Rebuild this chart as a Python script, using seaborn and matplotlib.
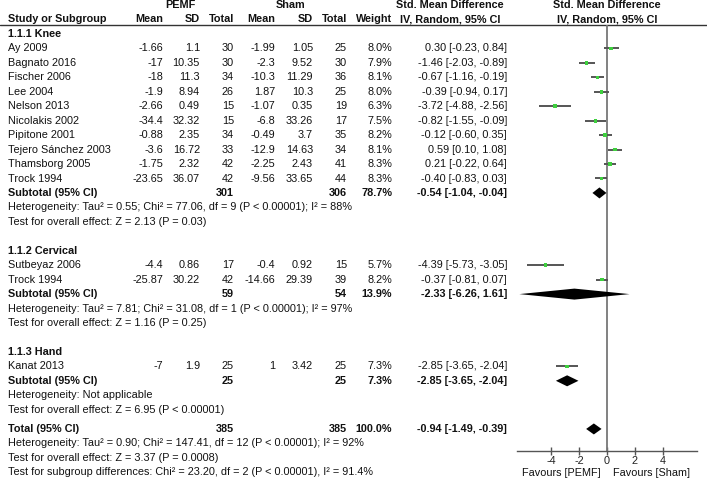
import matplotlib
matplotlib.use("Agg")
import matplotlib.pyplot as plt
import numpy as np
import pandas as pd
import seaborn as sns

# ---- data ----
groups = ["1.1.1 Knee", "1.1.2 Cervical", "1.1.3 Hand"]

study_group = [0, 0, 0, 0, 0, 0, 0, 0, 0, 0, 1, 1, 2]
study_names = ["Ay 2009", "Bagnato 2016", "Fischer 2006", "Lee 2004", "Nelson 2013",
               "Nicolakis 2002", "Pipitone 2001", "Tejero Sánchez 2003", "Thamsborg 2005",
               "Trock 1994", "Sutbeyaz 2006", "Trock 1994", "Kanat 2013"]
pemf_mean = [-1.66, -17, -18, -1.9, -2.66, -34.4, -0.88, -3.6, -1.75, -23.65, -4.4, -25.87, -7]
pemf_sd = [1.1, 10.35, 11.3, 8.94, 0.49, 32.32, 2.35, 16.72, 2.32, 36.07, 0.86, 30.22, 1.9]
pemf_n = [30, 30, 34, 26, 15, 15, 34, 33, 42, 42, 17, 42, 25]
sham_mean = [-1.99, -2.3, -10.3, 1.87, -1.07, -6.8, -0.49, -12.9, -2.25, -9.56, -0.4, -14.66, 1]
sham_sd = [1.05, 9.52, 11.29, 10.3, 0.35, 33.26, 3.7, 14.63, 2.43, 33.65, 0.92, 29.39, 3.42]
sham_n = [25, 30, 36, 25, 19, 17, 35, 34, 41, 44, 15, 39, 25]
weight = [8.0, 7.9, 8.1, 8.0, 6.3, 7.5, 8.2, 8.1, 8.3, 8.3, 5.7, 8.2, 7.3]
smd = [0.30, -1.46, -0.67, -0.39, -3.72, -0.82, -0.12, 0.59, 0.21, -0.40, -4.39, -0.37, -2.85]
ci_lo = [-0.23, -2.03, -1.16, -0.94, -4.88, -1.55, -0.60, 0.10, -0.22, -0.83, -5.73, -0.81, -3.65]
ci_hi = [0.84, -0.89, -0.19, 0.17, -2.56, -0.09, 0.35, 1.08, 0.64, 0.03, -3.05, 0.07, -2.04]

sub_n1 = [301, 59, 25]
sub_n2 = [306, 54, 25]
sub_weight = [78.7, 13.9, 7.3]
sub_smd = [-0.54, -2.33, -2.85]
sub_lo = [-1.04, -6.26, -3.65]
sub_hi = [-0.04, 1.61, -2.04]
sub_het = ["Heterogeneity: Tau² = 0.55; Chi² = 77.06, df = 9 (P < 0.00001); I² = 88%",
           "Heterogeneity: Tau² = 7.81; Chi² = 31.08, df = 1 (P < 0.00001); I² = 97%",
           "Heterogeneity: Not applicable"]
sub_test = ["Test for overall effect: Z = 2.13 (P = 0.03)",
            "Test for overall effect: Z = 1.16 (P = 0.25)",
            "Test for overall effect: Z = 6.95 (P < 0.00001)"]

total_n1, total_n2, total_weight = 385, 385, 100.0
total_smd, total_lo, total_hi = -0.94, -1.49, -0.39
total_notes = ["Heterogeneity: Tau² = 0.90; Chi² = 147.41, df = 12 (P < 0.00001); I² = 92%",
               "Test for overall effect: Z = 3.37 (P = 0.0008)",
               "Test for subgroup differences: Chi² = 23.20, df = 2 (P < 0.00001), I² = 91.4%"]

axis_ticks = [-4, -2, 0, 2, 4]

# ---- layout (pixel rows) ----
W, H = 707, 488
step = 14.45
fs = 7.85

sns.set_theme(style="white")
plt.rcParams["font.family"] = ["Liberation Sans", "DejaVu Sans"]

fig = plt.figure(figsize=(W / 100, H / 100), dpi=100)
ax = fig.add_axes([0, 0, 1, 1])
ax.set_xlim(0, W)
ax.set_ylim(H, 0)
ax.axis("off")

# forest panel: x in SMD units, y in pixel rows
fx_left, fx_right, fx_top, fx_bot = 517, 697, 25, 451
fx = fig.add_axes([fx_left / W, (H - fx_bot) / H, (fx_right - fx_left) / W, (fx_bot - fx_top) / H])
fx.set_xlim(-6.43, 6.43)
fx.set_ylim(fx_bot, fx_top)
fx.patch.set_alpha(0)
for s in ["top", "right", "left"]:
    fx.spines[s].set_visible(False)
fx.spines["bottom"].set_color("#555555")
fx.spines["bottom"].set_linewidth(1.0)
fx.set_yticks([])
fx.set_xticks(axis_ticks)
fx.set_xticklabels([str(t) for t in axis_ticks])
fx.tick_params(axis="x", direction="inout", length=6, width=1.0, color="#555555",
               labelsize=fs, pad=0.5, labelcolor="#222222", bottom=True)
fx.axvline(0, color="#777777", lw=1.3, zorder=1)

cols = {"m1": 163, "sd1": 200, "n1": 234, "m2": 275, "sd2": 313, "n2": 347, "w": 392, "ci": 507}
txt = dict(fontsize=fs, va="center", color="#111111")


def put(x, y, s, ha="right", bold=False):
    ax.text(x, y, s, ha=ha, fontweight="bold" if bold else "normal", **txt)


# headers
put(180, 5.5, "PEMF", "center", True)
put(291, 5.5, "Sham", "center", True)
put(450, 5.5, "Std. Mean Difference", "center", True)
put(607, 5.5, "Std. Mean Difference", "center", True)
put(8, 19, "Study or Subgroup", "left", True)
for key, lab in [("m1", "Mean"), ("sd1", "SD"), ("n1", "Total"), ("m2", "Mean"),
                 ("sd2", "SD"), ("n2", "Total"), ("w", "Weight")]:
    put(cols[key], 19, lab, "right", True)
put(450, 19, "IV, Random, 95% CI", "center", True)
put(607, 19, "IV, Random, 95% CI", "center", True)
ax.plot([0, W], [25, 25], color="#333333", lw=1.0)


def ci_str(e, lo, hi):
    return f"{e:.2f} [{lo:.2f}, {hi:.2f}]"


def diamond(y, e, lo, hi, half=5.5):
    fx.fill([lo, e, hi, e], [y, y - half, y, y + half], color="black", zorder=3, lw=0)


y = 34.0
rows = []
for g, gname in enumerate(groups):
    put(8, y, gname, "left", True)
    y += step
    for i in [k for k, sg in enumerate(study_group) if sg == g]:
        put(8, y, study_names[i], "left")
        put(cols["m1"], y, f"{pemf_mean[i]:g}")
        put(cols["sd1"], y, f"{pemf_sd[i]:g}")
        put(cols["n1"], y, f"{pemf_n[i]}")
        put(cols["m2"], y, f"{sham_mean[i]:g}")
        put(cols["sd2"], y, f"{sham_sd[i]:g}")
        put(cols["n2"], y, f"{sham_n[i]}")
        put(cols["w"], y, f"{weight[i]:.1f}%")
        put(cols["ci"], y, ci_str(smd[i], ci_lo[i], ci_hi[i]))
        rows.append({"y": y, "smd": smd[i], "lo": ci_lo[i], "hi": ci_hi[i]})
        y += step
    put(8, y, "Subtotal (95% CI)", "left", True)
    put(cols["n1"], y, f"{sub_n1[g]}", bold=True)
    put(cols["n2"], y, f"{sub_n2[g]}", bold=True)
    put(cols["w"], y, f"{sub_weight[g]:.1f}%", bold=True)
    put(cols["ci"], y, ci_str(sub_smd[g], sub_lo[g], sub_hi[g]), bold=True)
    diamond(y, sub_smd[g], sub_lo[g], sub_hi[g])
    y += step
    put(8, y, sub_het[g], "left")
    y += step
    put(8, y, sub_test[g], "left")
    y += step * (2 if g < len(groups) - 1 else 1)

y += 4.8
put(8, y, "Total (95% CI)", "left", True)
put(cols["n1"], y, f"{total_n1}", bold=True)
put(cols["n2"], y, f"{total_n2}", bold=True)
put(cols["w"], y, f"{total_weight:.1f}%", bold=True)
put(cols["ci"], y, ci_str(total_smd, total_lo, total_hi), bold=True)
diamond(y, total_smd, total_lo, total_hi)
for note in total_notes:
    y += step
    put(8, y, note, "left")

# study estimates with confidence intervals
df = pd.DataFrame(rows)
fx.hlines(df["y"], df["lo"], df["hi"], color="#555555", lw=1.4, zorder=2)
sns.scatterplot(data=df, x="smd", y="y", ax=fx, marker="s", s=7, color="#3ecf3e",
                edgecolor="none", zorder=4, legend=False)
fx.set_xlabel("")
fx.set_ylabel("")
fx.set_ylim(fx_bot, fx_top)

put(601, 473, "Favours [PEMF]", "right")
put(613, 473, "Favours [Sham]", "left")

fig.savefig("out.png", dpi=100)
